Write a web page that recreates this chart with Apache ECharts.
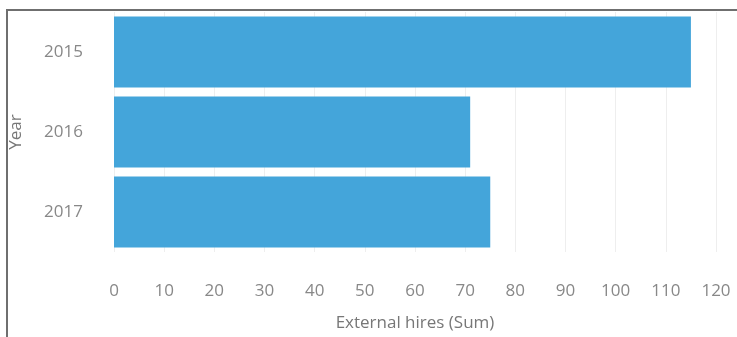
<!DOCTYPE html>
<html>
<head>
<meta charset="utf-8">
<script src="https://cdn.jsdelivr.net/npm/echarts@6/dist/echarts.min.js"></script>
<style>
  html, body { margin: 0; padding: 0; background: #fff; }
  #frame { position: absolute; left: 6px; top: 9px; width: 740px; height: 340px;
    border-left: 2px solid #6f6f6f; border-top: 2px solid #6f6f6f; }
  #chart { position: absolute; left: 0; top: 0; width: 737px; height: 337px; }
</style>
</head>
<body>
<div id="frame"></div>
<div id="chart"></div>
<script>
// chart data
const years = ['2015', '2016', '2017'];
const externalHires = [115, 71, 75];

const myChart = echarts.init(document.getElementById('chart'));

const option = {
  animation: false,
  grid: { left: 114, right: 21, top: 12, bottom: 84 },
  xAxis: {
    type: 'value',
    min: 0,
    max: 120,
    interval: 10,
    name: 'External hires (Sum)',
    nameLocation: 'middle',
    nameGap: 63,
    nameTextStyle: { color: '#777', fontSize: 17, fontFamily: 'Open Sans' },
    axisLine: { show: false },
    axisTick: { show: false },
    axisLabel: { color: '#888', fontSize: 17, margin: 31, fontFamily: 'Open Sans' },
    splitLine: { lineStyle: { color: '#eeeeee' } },
  },
  yAxis: {
    type: 'category',
    inverse: true,
    data: years,
    name: 'Year',
    nameLocation: 'middle',
    nameGap: 89,
    nameTextStyle: { color: '#777', fontSize: 17, fontFamily: 'Open Sans' },
    axisLine: { show: false },
    axisTick: { show: false },
    axisLabel: { color: '#888', fontSize: 17, margin: 31, fontFamily: 'Open Sans' },
    splitLine: { show: false },
  },
  series: [
    {
      type: 'bar',
      data: externalHires,
      barCategoryGap: '11.5%',
      itemStyle: { color: '#44a5da' },
    },
  ],
};

myChart.setOption(option);
</script>
</body>
</html>
